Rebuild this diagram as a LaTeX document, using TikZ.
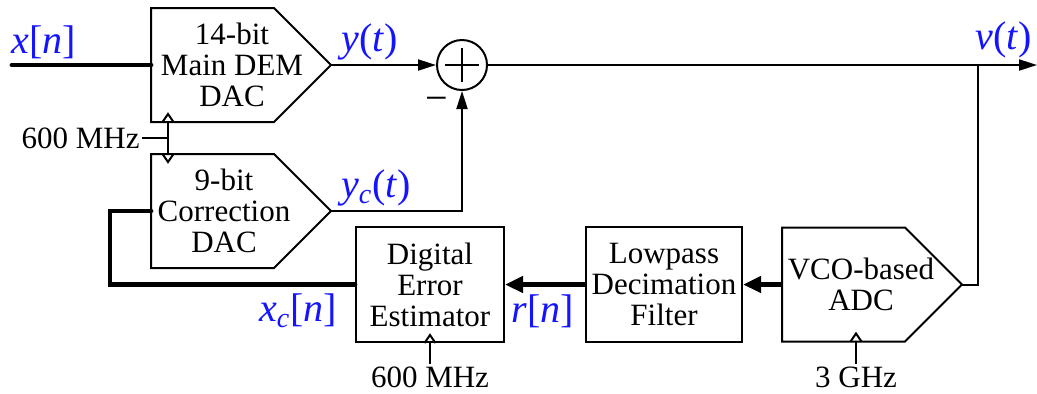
\documentclass[tikz,border=0pt]{standalone}
\usepackage{fontspec}
\setmainfont{Liberation Serif}
\usetikzlibrary{calc, positioning, arrows.meta}
\definecolor{sigblue}{HTML}{1414FF}

% pentagon converter block: name, left-middle point
\newcommand{\convblock}[2]{%
  \coordinate (#1-in) at #2;
  \coordinate (#1-out) at ($(#1-in)+(180,0)$);
  \draw[line width=1pt] ($(#1-in)+(0,-57)$) -- ++(123,0) -- (#1-out)
    -- ($(#1-in)+(123,57)$) -- ++(-123,0) -- cycle;}

\begin{document}
\begin{tikzpicture}[x=0.5pt, y=-0.5pt,
  blk/.style={align=center, inner sep=2pt, font=\fontsize{15.5}{15.5}\selectfont},
  bx/.style={draw, line width=1pt, minimum height=57.5pt, align=center,
             inner sep=2pt, font=\fontsize{15.5}{15.5}\selectfont},
  lbl/.style={text=sigblue, font=\fontsize{20}{22}\selectfont, inner sep=1pt},
  txt/.style={font=\fontsize{15.5}{16}\selectfont, inner sep=1pt},
  wire/.style={line width=1pt},
  arr/.style={-{Triangle[length=9pt,width=5.5pt]}, line width=1pt},
  thk/.style={line width=2.4pt, line cap=round},
  thkarr/.style={-{Triangle[length=9pt,width=8pt]}, line width=2.4pt},
]
\useasboundingbox (0,0) rectangle (1037,393);

% DACs
\convblock{main}{(151,65)}
\node[blk] (maintxt) at (232,65) {14-bit\\Main DEM\\DAC};
\convblock{corr}{(151,211)}
\node[blk] (corrtxt) at (224,211) {9-bit\\Correction\\DAC};

% Summer
\node[draw, circle, line width=1pt, minimum size=25pt, inner sep=0pt] (sum) at (462,65) {};
\draw[wire] ($(sum)+(0,-17)$) -- ($(sum)+(0,17)$);
\draw[wire] ($(sum)+(-17,0)$) -- ($(sum)+(17,0)$);
\node[font=\fontsize{20}{22}\selectfont, inner sep=0pt] (minus) at (437,104) {−};

% Feedback path
\node[bx, minimum width=74pt] (dee) at (430,284.5) {Digital\\Error\\Estimator};
\node[bx, minimum width=78pt] (lpf) at (664,284.5) {Lowpass\\Decimation\\Filter};
\convblock{adc}{(782,284.5)}
\node[blk] (adctxt) at (861,284.5) {VCO-based\\ADC};

% Connections
\coordinate (xin)  at (12,65);
\coordinate (tap)  at (978,65);
\coordinate (vout) at (1037,65);
\coordinate (fb)   at (110,284.5);
\draw[thk] (xin) -- (main-in);
\draw[arr] (main-out) -- (sum.west);
\draw[arr] (corr-out) -| (sum.south);
\draw[arr] (sum.east) -- (vout);
\draw[wire] (tap) |- (adc-out);
\draw[thkarr] (adc-in) -- (lpf.east);
\draw[thkarr] (lpf.west) -- (dee.east);
\draw[thk] (dee.west) -- (fb) |- (corr-in);

% Clocks
\node[txt, anchor=east] (f1) at (142,138) {600 MHz};
\coordinate (j1) at (168,138);
\draw[wire] (f1.east) -- (j1);
\draw[wire] ($(main-in)+(17,57)$) -- ($(corr-in)+(17,-57)$);
\draw[wire] ($(main-in)+(11.5,57)$) -- ++(5.5,-8) -- ++(5.5,8);
\draw[wire] ($(corr-in)+(11.5,-57)$) -- ++(5.5,8) -- ++(5.5,-8);
\node[txt] (f2) at (430,377) {600 MHz};
\draw[wire] (dee.south) -- (f2.north);
\draw[wire] ($(dee.south)+(-5.5,0)$) -- ++(5.5,-8) -- ++(5.5,8);
\node[txt] (f3) at (856,377) {3 GHz};
\coordinate (ck3) at ($(adc-in)+(74,57)$);
\draw[wire] (ck3) -- (f3.north);
\draw[wire] ($(ck3)+(-5.5,0)$) -- ++(5.5,-8) -- ++(5.5,8);

% Signal labels
\node[lbl] (lx)  at (44,42)   {\itshape x\/\upshape[\itshape n\/\upshape]};
\node[lbl] (ly)  at (370,42)  {\itshape y\upshape(\itshape t\/\upshape)};
\node[lbl] (lyc) at (376,188) {\itshape y\textsubscript{c}\upshape(\itshape t\/\upshape)};
\node[lbl] (lv)  at (1004,40) {\itshape v\upshape(\itshape t\/\upshape)};
\node[lbl] (lxc) at (298,311) {\itshape x\textsubscript{c}\upshape[\itshape n\/\upshape]};
\node[lbl] (lr)  at (543,311) {\itshape r\upshape[\itshape n\/\upshape]};

\end{tikzpicture}
\end{document}
